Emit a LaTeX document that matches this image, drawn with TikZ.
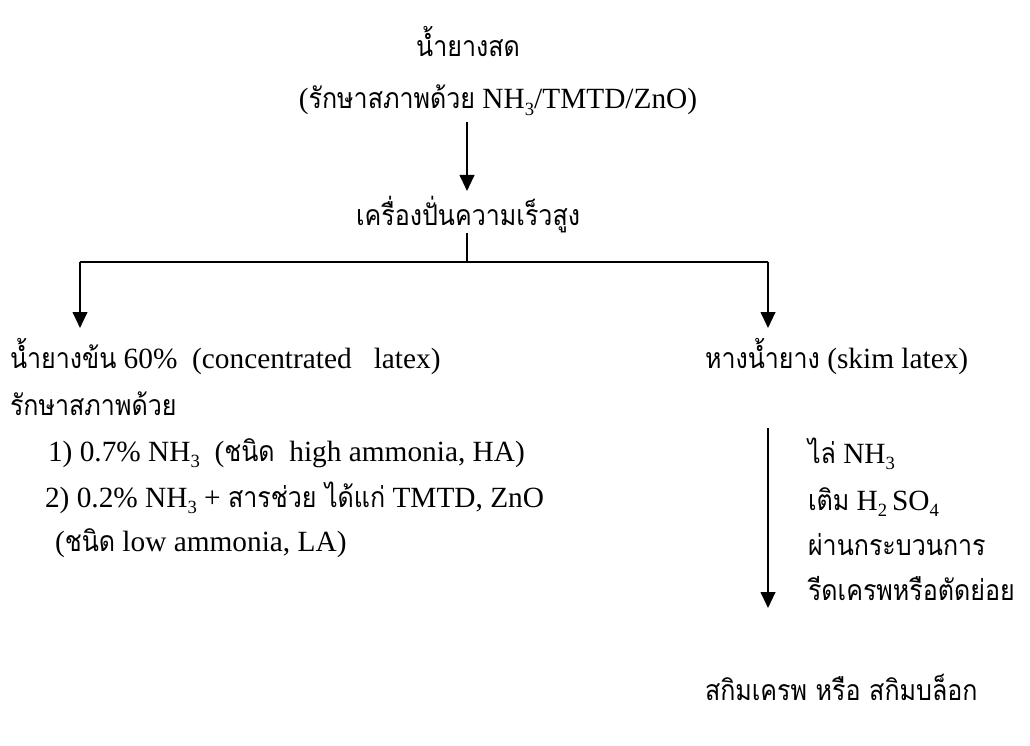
\documentclass[tikz,border=0pt]{standalone}
\usepackage{fontspec}
\setmainfont{Liberation Serif}
\newfontfamily\thai[Script=Thai,Scale=0.97,FakeStretch=0.88]{Loma}
\usetikzlibrary{arrows.meta}
\newcommand{\T}[1]{{\thai #1}}
\newcommand{\sub}[1]{\raisebox{-0.5ex}{\fontsize{14}{16}\selectfont #1}}
\begin{document}
\begin{tikzpicture}[x=0.75pt,y=-0.75pt,
  every node/.style={inner sep=0pt,outer sep=0pt,font=\fontsize{22}{26}\selectfont},
  conn/.style={line width=1.5pt},
  arr/.style={conn,-{Triangle[width=11pt,length=12pt]}},
  lbl/.style={anchor=base west}]
\useasboundingbox (0,0) rectangle (1030,745);
\node (fresh) at (468,42) {\T{น้ำยางสด}};
\node (pres) at (498,100) {(\T{รักษาสภาพด้วย} NH\sub{3}/TMTD/ZnO)};
\node (cent) at (468,215) {\T{เครื่องปั่นความเร็วสูง}};
\coordinate (a1s) at (467,122);
\coordinate (a1e) at (467,191);
\draw[arr] (a1s) -- (a1e);
\coordinate (j) at (467,262);
\coordinate (jl) at (80,262);
\coordinate (jr) at (768,262);
\coordinate (lt) at (80,328);
\coordinate (rt) at (768,328);
\draw[conn] (cent.south -| j) -- (j);
\draw[conn] (jl) -- (jr);
\draw[arr] (jl) -- (lt);
\draw[arr] (jr) -- (rt);
\node[lbl] (conc) at (10,368) {\T{น้ำยางข้น} 60\%\ \ (concentrated\ \ \ latex)};
\node[lbl] (l2) at (10,415) {\T{รักษาสภาพด้วย}};
\node[lbl] (l3) at (48,461) {1) 0.7\% NH\sub{3}\ \ (\T{ชนิด}\ \ high ammonia, HA)};
\node[lbl] (l4) at (45,507) {2) 0.2\% NH\sub{3} + \T{สารช่วย ได้แก่} TMTD, ZnO};
\node[lbl] (l5) at (55,551) {(\T{ชนิด} low ammonia, LA)};
\node[lbl] (skim) at (705,368) {\T{หางน้ำยาง} (skim latex)};
\coordinate (r1) at (768,428);
\coordinate (r2) at (768,608);
\draw[arr] (r1) -- (r2);
\node[lbl] (s1) at (808,463) {\T{ไล่} NH\sub{3}};
\node[lbl] (s2) at (808,510) {\T{เติม} H\sub{2}\,SO\sub{4}};
\node[lbl] (s3) at (808,555) {\T{ผ่านกระบวนการ}};
\node[lbl] (s4) at (808,600) {\T{รีดเครพหรือตัดย่อย}};
\node[lbl] (crepe) at (705,700) {\T{สกิมเครพ\hspace{0.3em}หรือ\hspace{0.3em}สกิมบล็อก}};
\end{tikzpicture}
\end{document}
